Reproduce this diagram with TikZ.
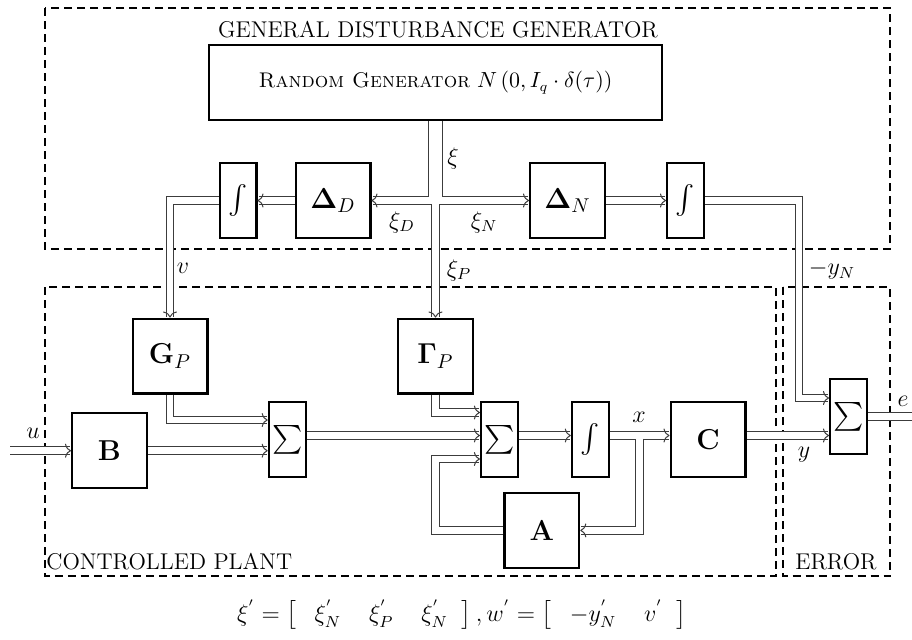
\documentclass[tikz,border=0pt]{standalone}
\usepackage{amsmath, amssymb}
\usepackage{exscale}
\usetikzlibrary{arrows.meta}
\definecolor{sigline}{RGB}{60, 60, 60}

\begin{document}
\begin{tikzpicture}[x=0.5pt, y=-0.5pt,
    blk/.style={draw, line width=1.1pt, minimum width=37.4pt, minimum height=37.4pt, inner sep=0pt, font=\Large},
    nar/.style={blk, minimum width=18.4pt},
    sumbox/.style={nar, font=\fontsize{13.5pt}{15pt}\selectfont},
    sig/.style={draw=sigline, line width=0.5pt, double=white, double distance=3.3pt},
    zone/.style={draw, line width=1pt, dash pattern=on 4pt off 2.5pt},
    zlabel/.style={font=\fontsize{11.4pt}{13pt}\selectfont},
    slabel/.style={font=\large},
    >={To[length=3pt, width=7pt]}]
    \useasboundingbox (0,0) rectangle (912,639);

    %% zones
    \draw[zone] (45,8) rectangle (890,249);
    \draw[zone] (45,287) rectangle (776,576);
    \draw[zone] (782.5,287) rectangle (890,576);
    \node[zlabel] (tgen) at (438,30) {GENERAL DISTURBANCE GENERATOR};
    \node[zlabel, anchor=west, inner sep=0.5pt] (tplant) at (45,562) {CONTROLLED PLANT};
    \node[zlabel] (terr) at (836,562) {ERROR};

    %% disturbance generator
    \node[draw, line width=1.1pt, minimum width=226.4pt, minimum height=37.4pt,
      font=\fontsize{10.6pt}{12pt}\selectfont] (rg) at (435.5,82.5)
      {\textsc{Random Generator} $N\left(0, I_q\cdot\delta(\tau)\right)$};
    \node[nar] (iD) at (238,200.5) {$\int$};
    \node[blk] (dD) at (333,200.5) {$\boldsymbol{\Delta}_D$};
    \node[blk] (dN) at (567.5,200.5) {$\boldsymbol{\Delta}_N$};
    \node[nar] (iN) at (685.5,200.5) {$\int$};

    %% plant
    \node[blk] (gP) at (170,356) {$\mathbf{G}_P$};
    \node[blk] (gamP) at (435.5,356) {$\boldsymbol{\Gamma}_P$};
    \node[blk] (mB) at (109.5,450.7) {$\mathbf{B}$};
    \node[sumbox] (s1) at (287.2,439.6) {$\sum$};
    \node[sumbox] (s2) at (499.4,439.6) {$\sum$};
    \node[nar] (iX) at (590.3,439.6) {$\int$};
    \node[blk] (mC) at (708,439.6) {$\mathbf{C}$};
    \node[blk] (mA) at (541.8,530.4) {$\mathbf{A}$};
    \node[sumbox] (s3) at (848.5,416.4) {$\sum$};

    \coordinate (jn) at (435.5,200.5);
    \coordinate (uin) at (10,450.7);
    \coordinate (eout) at (912,416.4);
    \coordinate (xbr) at (639.5,438.9);

    %% xi split, then one path over the joint
    \draw[sig,->] (jn) -- (dD.east);
    \draw[sig,->] (jn) -- (dN.west);
    \draw[sig,->] (jn) -- (gamP.north);
    \draw[sig] ([xshift=-1.6pt]rg.south) |- ([xshift=-12pt]jn)
               ([xshift=1.6pt]rg.south) |- ([xshift=12pt]jn)
               (jn) -- ([yshift=-10pt]jn);

    \draw[sig,->] (dD.west) -- (iD.east);
    \draw[sig,->] (iD.west) -| (gP.north);
    \draw[sig,->] (dN.east) -- (iN.west);
    \draw[sig,->] (iN.east) -| (799,398) -- (s3.west |- 0,398);

    %% plant signals
    \draw[sig,->] (uin) -- (mB.west);
    \draw[sig,->] (gP.south) |- (s1.west |- 0,420);
    \draw[sig,->] (mB.east) -- (s1.west |- mB.east);
    \draw[sig,->] (s1.east |- 0,435.5) -- (s2.west |- 0,435.5);
    \draw[sig,->] (gamP.south) |- (s2.west |- 0,412.5);
    \draw[sig,->] (mA.west) -| (435.3,459) -- (s2.west |- 0,459);
    \draw[sig,->] (s2.east |- 0,435.5) -- (iX.west |- 0,435.5);
    \draw[sig,->] (iX.east |- 0,435.5) -- (mC.west |- 0,435.5);
    \draw[sig,->] (xbr) |- (mA.east);
    \draw[sig,->] (mC.east |- 0,435.5) -- (s3.west |- 0,435.5);
    \draw[sig] (s3.east) -- (eout);

    %% signal labels
    \node[slabel] (lxi) at (453,158) {$\xi$};
    \node[slabel] (lxiD) at (402,222) {$\xi_D$};
    \node[slabel] (lxiN) at (484,222) {$\xi_N$};
    \node[slabel] (lxiP) at (459,270) {$\xi_P$};
    \node[slabel] (lv) at (183,268) {$v$};
    \node[slabel] (lyN) at (832,270) {$-y_N$};
    \node[slabel] (lu) at (33,433) {$u$};
    \node[slabel] (lx) at (639,417) {$x$};
    \node[slabel] (ly) at (804,455) {$y$};
    \node[slabel] (le) at (903,401) {$e$};

    \node[slabel] (fml) at (462,615)
      {$\xi^{'} = \left[\hspace{9pt}\xi_N^{'}\hspace{14pt}\xi_P^{'}\hspace{14pt}\xi_N^{'}\hspace{7pt}\right],
        w^{'} = \left[\hspace{9pt}-y_N^{'}\hspace{14pt}v^{'}\hspace{7pt}\right]$};
\end{tikzpicture}
\end{document}
